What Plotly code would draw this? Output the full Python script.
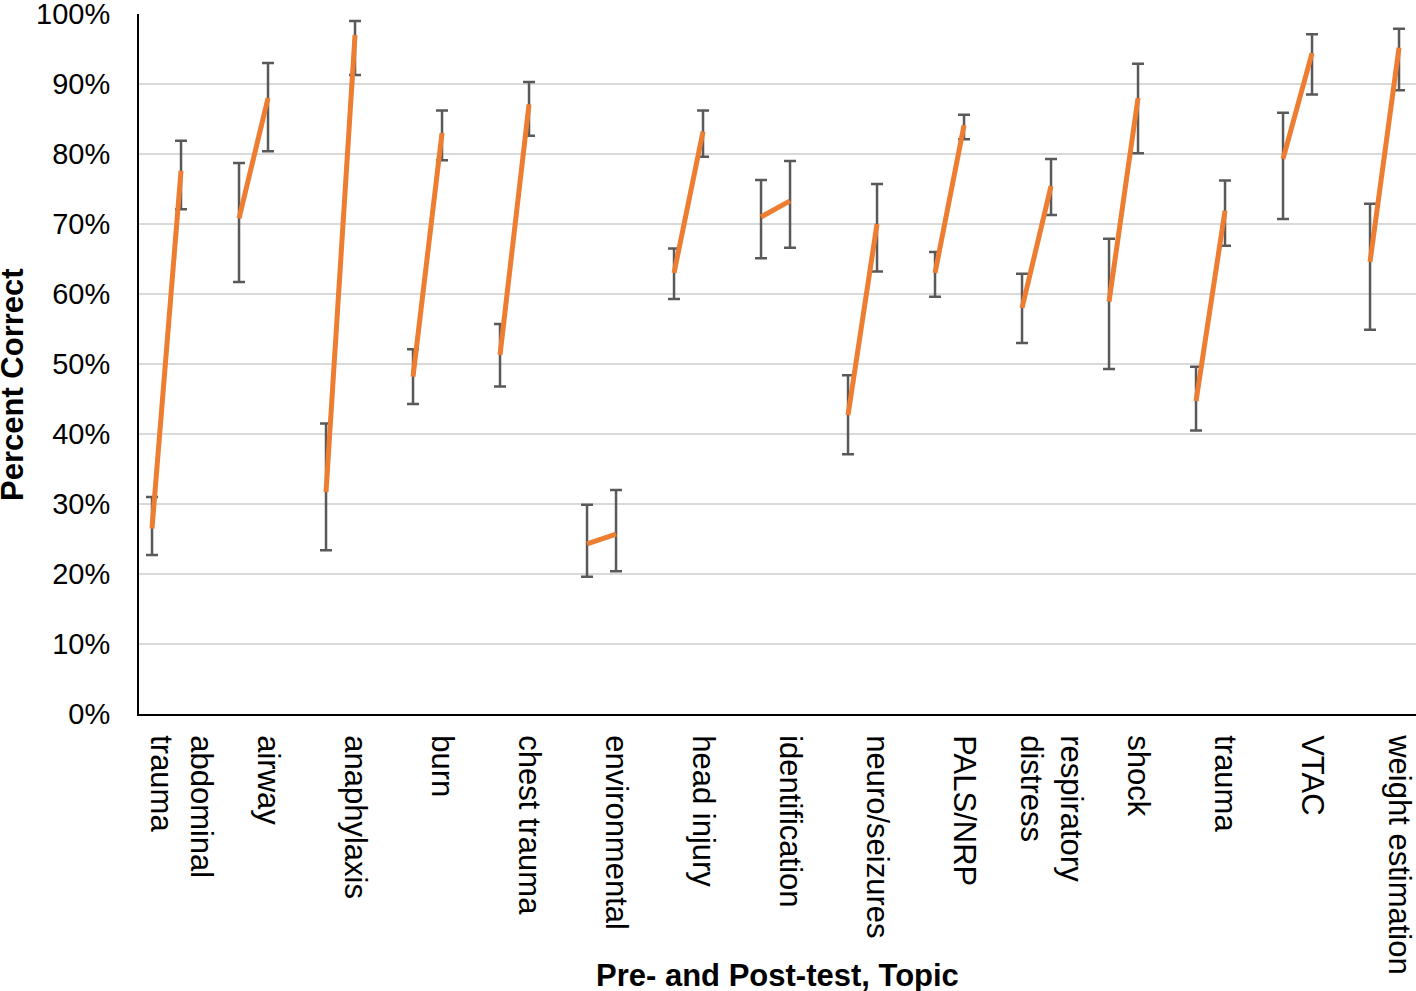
import plotly.graph_objects as go

topics = ["abdominal<br>trauma", "airway", "anaphylaxis", "burn", "chest trauma",
          "environmental", "head injury", "identification", "neuro/seizures",
          "PALS/NRP", "respiratory<br>distress", "shock", "trauma", "VTAC",
          "weight estimation"]

pre = [26.5, 70.8, 31.7, 48.2, 51.3, 24.3, 63.0, 71.0, 42.7, 63.0, 58.0, 58.9, 44.7, 79.3, 64.6]
pre_upper = [31.0, 78.7, 41.5, 52.1, 55.7, 29.9, 66.5, 76.3, 48.4, 66.0, 62.9, 67.9, 49.6, 85.9, 72.9]
pre_lower = [22.7, 61.7, 23.4, 44.3, 46.8, 19.6, 59.3, 65.1, 37.1, 59.6, 53.0, 49.3, 40.5, 70.7, 54.9]

post = [77.6, 88.0, 97.0, 83.0, 87.1, 25.7, 83.2, 73.3, 70.0, 84.1, 75.4, 88.0, 71.9, 94.4, 95.2]
post_upper = [81.9, 93.0, 99.0, 86.2, 90.3, 32.0, 86.2, 79.0, 75.7, 85.6, 79.3, 92.9, 76.2, 97.1, 97.9]
post_lower = [72.1, 80.4, 91.3, 79.1, 82.6, 20.4, 79.6, 66.6, 63.2, 82.1, 71.3, 80.1, 66.9, 88.5, 89.1]

y_ticks = list(range(0, 101, 10))
y_tick_labels = [f"{v}%" for v in y_ticks]

PRE_OFFSET = -1 / 3
ORANGE = "#ED7D31"
ERR = "#595959"
FONT = "Liberation Sans, Arial, Helvetica, sans-serif"

idx = list(range(len(topics)))
x_pre = [i + PRE_OFFSET for i in idx]
x_post = idx

fig = go.Figure()

# error bars (behind the lines)
fig.add_trace(go.Scatter(
    x=x_pre, y=pre, mode="markers", marker=dict(size=1, color="rgba(0,0,0,0)"),
    error_y=dict(type="data", symmetric=False,
                 array=[u - v for u, v in zip(pre_upper, pre)],
                 arrayminus=[v - l for v, l in zip(pre, pre_lower)],
                 color=ERR, thickness=2.5, width=6),
    showlegend=False, hoverinfo="skip"))
fig.add_trace(go.Scatter(
    x=x_post, y=post, mode="markers", marker=dict(size=1, color="rgba(0,0,0,0)"),
    error_y=dict(type="data", symmetric=False,
                 array=[u - v for u, v in zip(post_upper, post)],
                 arrayminus=[v - l for v, l in zip(post, post_lower)],
                 color=ERR, thickness=2.5, width=6),
    showlegend=False, hoverinfo="skip"))

# pre -> post segments
lx, ly = [], []
for i in idx:
    lx += [x_pre[i], x_post[i], None]
    ly += [pre[i], post[i], None]
fig.add_trace(go.Scatter(x=lx, y=ly, mode="lines",
                         line=dict(color=ORANGE, width=5),
                         showlegend=False, connectgaps=False))

fig.update_layout(
    width=1416, height=991,
    margin=dict(l=139, r=0, t=14, b=277, autoexpand=False),
    paper_bgcolor="white", plot_bgcolor="white",
    font=dict(family=FONT, color="black", size=29),
    xaxis=dict(range=[-0.483, 14.195], tickmode="array", tickvals=idx, ticktext=topics,
               tickangle=90, showgrid=False, zeroline=False,
               showline=True, linecolor="black", linewidth=2,
               ticks="", ticklabelstandoff=13, ticklabeloverflow="allow",
               automargin=False,
               tickfont=dict(size=31, family=FONT, color="black")),
    yaxis=dict(range=[0, 100], tickmode="array", tickvals=y_ticks, ticktext=y_tick_labels,
               showgrid=True, gridcolor="#D9D9D9", gridwidth=1.5,
               zeroline=False, showline=True, linecolor="black", linewidth=2,
               ticks="", ticklabelstandoff=21, ticklabeloverflow="allow",
               automargin=False,
               tickfont=dict(size=29, family=FONT, color="black")),
    annotations=[
        dict(text="<b>Pre- and Post-test, Topic</b>", xref="paper", yref="paper",
             x=0.5, y=(714 - 975) / 700, xanchor="center", yanchor="middle",
             showarrow=False, font=dict(size=31, family=FONT, color="black")),
        dict(text="<b>Percent Correct</b>", xref="paper", yref="paper",
             x=(12 - 139) / 1277, y=0.47, xanchor="center", yanchor="middle",
             textangle=-90, showarrow=False,
             font=dict(size=31, family=FONT, color="black")),
    ],
)

fig.write_html("out.html", config={"displayModeBar": False},
               post_script="document.body.style.margin='0';document.body.style.overflow='hidden';")
